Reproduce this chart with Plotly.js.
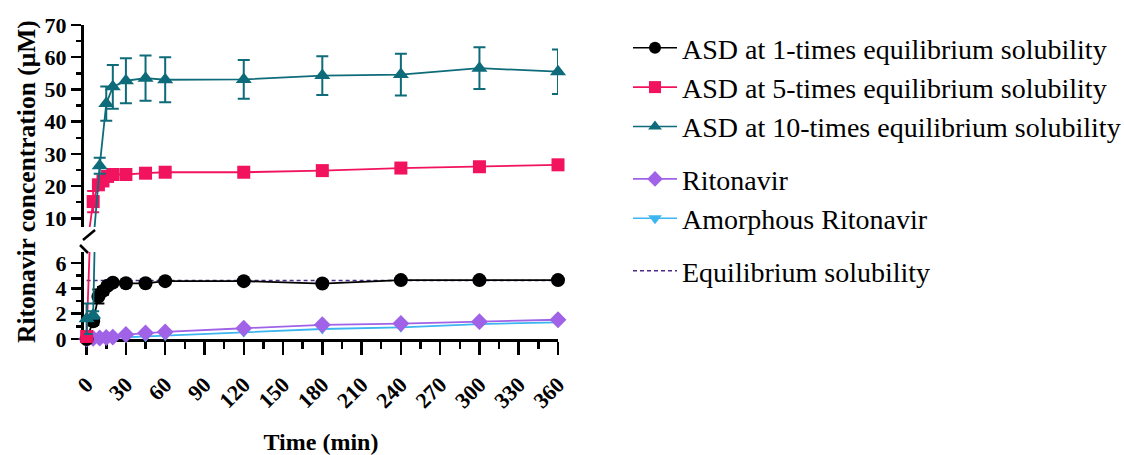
<!DOCTYPE html>
<html>
<head>
<meta charset="utf-8">
<script src="https://cdn.plot.ly/plotly-3.0.1.min.js"></script>
<style>html,body{margin:0;padding:0;background:#fff;}#chart{width:1124px;height:455px;}</style>
</head>
<body>
<div id="chart"></div>
<script>
// ---- data ----
const TIME_A = [0, 5, 9, 12.5, 16, 20, 30, 45, 60, 120, 180, 240, 300, 360];
const ASD_1X = [0, 1.4, 3.35, 3.8, 4.2, 4.45, 4.4, 4.4, 4.57, 4.57, 4.38, 4.65, 4.65, 4.65];
const ASD_1X_ERR = [0, 0.3, 0.55, 0.3, 0.2, 0.1, 0.1, 0.1, 0.1, 0.1, 0.1, 0.1, 0.1, 0.1];
const ASD_5X = [0.2, 15.2, 20.4, 21.6, 23.0, 23.6, 23.6, 24.0, 24.3, 24.3, 24.8, 25.6, 26.0, 26.6];
const ASD_5X_ERR = [0, 3.3, 1.0, 0.5, 0.5, 0.4, 0.4, 0.4, 0.4, 0.4, 0.4, 0.4, 0.4, 0.4];

const TIME_B = [0, 5, 10, 15, 20, 30, 45, 60, 120, 180, 240, 300, 360];
const ASD_10X = [1.6, 1.9, 26.3, 45.6, 50.8, 52.7, 53.5, 53.0, 53.1, 54.3, 54.6, 56.6, 55.5];
const ASD_10X_ERR = [1.2, 0.3, 2.5, 5.3, 6.8, 7.0, 7.0, 7.0, 6.0, 6.0, 6.5, 6.5, 6.9];
const RITONAVIR = [0, 0.05, 0.08, 0.12, 0.15, 0.35, 0.48, 0.56, 0.85, 1.12, 1.22, 1.37, 1.52];
const AMORPHOUS = [0, 0.02, 0.03, 0.05, 0.07, 0.12, 0.18, 0.26, 0.53, 0.79, 0.92, 1.18, 1.32];

const EQ_TIME = [0, 360];
const EQ_SOL = [4.62, 4.62];

const X_TICKS = [0, 30, 60, 90, 120, 150, 180, 210, 240, 270, 300, 330, 360];
const TOP_TICKS = [10, 20, 30, 40, 50, 60, 70];
const BOTTOM_TICKS = [0, 2, 4, 6];

const NAMES = [
  'ASD at 1-times equilibrium solubility',
  'ASD at 5-times equilibrium solubility',
  'ASD at 10-times equilibrium solubility',
  'Ritonavir',
  'Amorphous Ritonavir',
  'Equilibrium solubility'
];

// ---- layout constants ----
const TOP_RANGE = [7.3, 70];
const BOT_RANGE = [0, 6.87];
const FONT = 'Liberation Serif';

function segTrace(name, xs, ys, err, color, symbol, size, axis, range, group) {
  const inR = v => v >= range[0] && v <= range[1];
  const sizes = ys.map(v => inR(v) ? size : 0);
  const t = {
    type: 'scatter', mode: 'lines+markers', name: name,
    x: xs, y: ys, xaxis: 'x', yaxis: axis,
    legendgroup: group, showlegend: false,
    cliponaxis: false,
    line: {color: color, width: 1.8},
    marker: {color: color, symbol: symbol, size: sizes, opacity: 1, line: {width: 0}}
  };
  if (err) {
    t.error_y = {type: 'data', array: err.map((e, i) => inR(ys[i]) ? e : null),
                 color: color, thickness: 2, width: 6, visible: true};
  }
  return t;
}

const series = [
  {n: NAMES[0], x: TIME_A, y: ASD_1X, e: ASD_1X_ERR, c: '#000000', s: 'circle', z: 14, g: 'g1'},
  {n: NAMES[1], x: TIME_A, y: ASD_5X, e: ASD_5X_ERR, c: '#F2135E', s: 'square', z: 13, g: 'g1'},
  {n: NAMES[2], x: TIME_B, y: ASD_10X, e: ASD_10X_ERR, c: '#0E6B79', s: 'triangle-up', z: 14, g: 'g1'},
  {n: NAMES[3], x: TIME_B, y: RITONAVIR, e: null, c: '#A062E6', s: 'diamond', z: 13, g: 'g2'},
  {n: NAMES[4], x: TIME_B, y: AMORPHOUS, e: null, c: '#3DB5F0', s: 'triangle-down', z: 11, g: 'g2'}
];

const data = [];
// legend entries (no data of their own)
series.forEach(sr => {
  data.push({
    type: 'scatter', mode: 'lines+markers', name: sr.n, x: [null], y: [null],
    xaxis: 'x', yaxis: 'y', legendgroup: sr.g, showlegend: true,
    line: {color: sr.c, width: 1.6},
    marker: {color: sr.c, symbol: sr.s, size: 12, opacity: 1}
  });
});
data.push({
  type: 'scatter', mode: 'lines', name: NAMES[5], x: EQ_TIME, y: EQ_SOL,
  xaxis: 'x', yaxis: 'y2', legendgroup: 'g3', showlegend: true,
  line: {color: '#4A2C86', width: 1.6, dash: '4px,3px'}
});
// drawn series: cyan first so purple sits above it
[4, 3, 0, 1, 2].forEach(k => {
  const sr = series[k];
  data.push(segTrace(sr.n, sr.x, sr.y, sr.e, sr.c, sr.s, sr.z, 'y', TOP_RANGE, sr.g));
  data.push(segTrace(sr.n, sr.x, sr.y, sr.e, sr.c, sr.s, sr.z, 'y2', BOT_RANGE, sr.g));
});

// pixel geometry helpers (plot area 84..558 x, 25..339 y)
const W = 1124, H = 455;
const L = 84, R = 558, T = 25, B = 339;
const px = x => (x - L) / (R - L);
const py = y => (B - y) / (B - T);

const axisCommon = {
  showline: true, linecolor: '#000', linewidth: 3, mirror: false,
  ticks: 'outside', ticklen: 10, tickwidth: 2.5, tickcolor: '#000',
  showgrid: false, zeroline: false, automargin: false,
  tickfont: {family: FONT, size: 22, color: '#000', weight: 'bold'},
  layer: 'below traces', fixedrange: true
};

const layout = {
  width: W, height: H,
  margin: {l: L, r: W - R, t: T, b: H - B, pad: 0, autoexpand: false},
  paper_bgcolor: '#fff', plot_bgcolor: '#fff',
  font: {family: FONT, color: '#000'},
  showlegend: true,
  xaxis: Object.assign({}, axisCommon, {
    domain: [0, 1], anchor: 'y2', range: [-2, 360],
    tickmode: 'array', tickvals: X_TICKS, ticktext: X_TICKS.map(String),
    tickangle: -45, ticklen: 13, ticklabelstandoff: 8,
    minor: {dtick: 15, tick0: 0, ticks: 'outside', ticklen: 7, tickwidth: 2.5, tickcolor: '#000', showgrid: false},
    title: {text: 'Time (min)', font: {family: FONT, size: 24, color: '#000', weight: 'bold'}, standoff: 27}
  }),
  yaxis: Object.assign({}, axisCommon, {
    domain: [py(227), 1], anchor: 'x', range: TOP_RANGE,
    tickmode: 'array', tickvals: TOP_TICKS, ticktext: TOP_TICKS.map(String),
    minor: {dtick: 5, tick0: 0, ticks: 'outside', ticklen: 5, tickwidth: 2.5, tickcolor: '#000', showgrid: false}
  }),
  yaxis2: Object.assign({}, axisCommon, {
    domain: [0, py(252)], anchor: 'x', range: BOT_RANGE,
    tickmode: 'array', tickvals: BOTTOM_TICKS, ticktext: BOTTOM_TICKS.map(String),
    minor: {dtick: 1, tick0: 0, ticks: 'outside', ticklen: 5, tickwidth: 2.5, tickcolor: '#000', showgrid: false}
  }),
  legend: {
    xref: 'container', yref: 'container',
    x: 628 / W, xanchor: 'left', y: 1 - 23 / H, yanchor: 'top',
    maxheight: 440,
    font: {family: FONT, size: 28, color: '#000'},
    traceorder: 'grouped', tracegroupgap: 13, itemwidth: 44,
    bgcolor: 'rgba(0,0,0,0)', borderwidth: 0
  },
  annotations: [{
    text: 'Ritonavir concentration (μM)', textangle: -90,
    xref: 'paper', yref: 'paper', x: px(26), y: py(182),
    xanchor: 'center', yanchor: 'middle', showarrow: false,
    font: {family: FONT, size: 25.5, color: '#000', weight: 'bold'}
  }],
  shapes: [
    {type: 'line', xref: 'paper', yref: 'paper', x0: px(83), y0: py(240), x1: px(95), y1: py(230),
     line: {color: '#000', width: 2.5}},
    {type: 'line', xref: 'paper', yref: 'paper', x0: px(80), y0: py(245), x1: px(88), y1: py(253),
     line: {color: '#000', width: 2.5}}
  ]
};

Plotly.newPlot('chart', data, layout, {staticPlot: true, displayModeBar: false});
</script>
</body>
</html>
